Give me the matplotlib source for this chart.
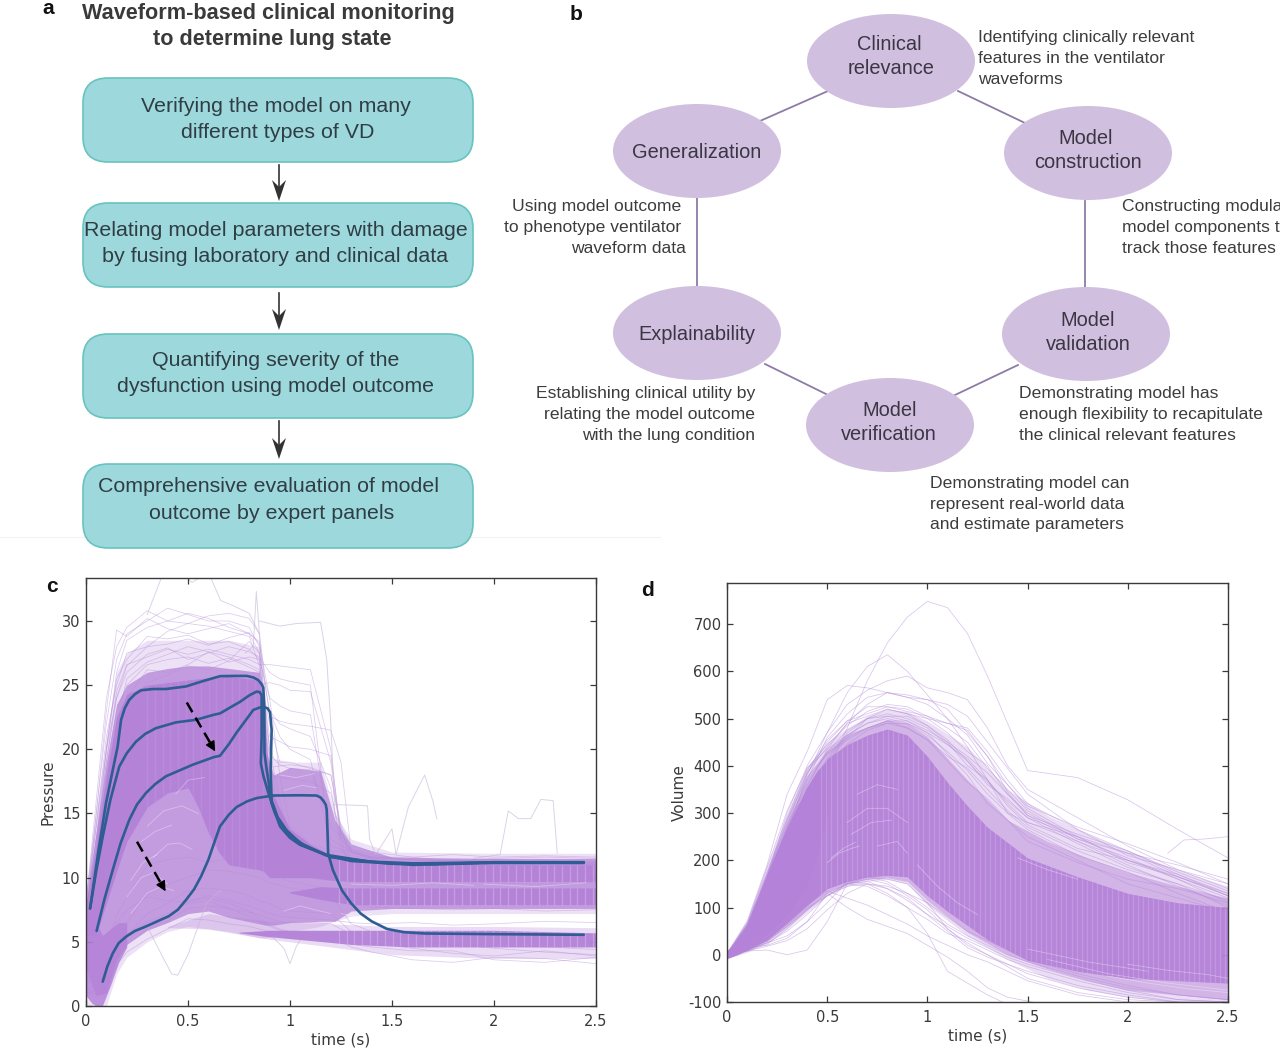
import numpy as np
import matplotlib
matplotlib.use("Agg")
import matplotlib.pyplot as plt
from matplotlib.patches import Ellipse, FancyBboxPatch, Polygon

plt.rcParams["axes.unicode_minus"] = False

# ---------- panel a / b content ----------
TITLE_A = ["Waveform-based clinical monitoring", "to determine lung state"]
FLOW_LINES = [["Verifying the model on many", "different types of VD"],
              ["Relating model parameters with damage", "by fusing laboratory and clinical data"],
              ["Quantifying severity of the", "dysfunction using model outcome"],
              ["Comprehensive evaluation of model", "outcome by expert panels"]]
CYCLE_NAMES = [["Clinical", "relevance"], ["Model", "construction"], ["Model", "validation"],
               ["Model", "verification"], ["Explainability"], ["Generalization"]]
NOTE_TEXT = ["Identifying clinically relevant", "features in the ventilator", "waveforms",
             "Constructing modular", "model components to", "track those features",
             "Demonstrating model has", "enough flexibility to recapitulate", "the clinical relevant features",
             "Demonstrating model can", "represent real-world data", "and estimate parameters",
             "Establishing clinical utility by", "relating the model outcome", "with the lung condition",
             "Using model outcome", "to phenotype ventilator", "waveform data"]

# ---------- panel c: pressure ----------
C_BAND_T = [0, .05, .1, .15, .2, .3, .4, .5, .6, .7, .85, .88, .92, 1.0, 1.15, 1.22, 1.3, 1.5, 2.0, 2.5]
C_LIGHT_HI = [9, 15, 21, 26, 27.5, 28.5, 28.5, 28.5, 28.5, 28.5, 28, 22, 19.3, 19, 19, 15, 13, 12, 11.9, 11.9]
C_LIGHT_LO = [0, 0, 0, 2.5, 3.8, 5, 5.8, 6.2, 6, 5.8, 5.3, 5.3, 5.5, 5.8, 6.2, 6.6, 7, 7.2, 7.2, 7.2]
C_MID_HI = [8, 13.5, 19, 23.5, 25, 26, 26.3, 26.5, 26.5, 26.3, 26, 20, 18, 18.6, 18.3, 14.5, 12.6, 11.6, 11.5, 11.5]
C_MID_LO = [3, .8, 1, 3.6, 4.8, 5.9, 6.5, 7.2, 7.4, 6.9, 6.4, 6.3, 6.3, 6.5, 6.6, 6.6, 7.4, 7.6, 7.6, 7.6]
C_DENSE_T = [0, .05, .1, .15, .2, .3, .4, .5, .55, .6, .65, .7, .85, .87, .9, 1.0, 1.1, 1.2, 1.3, 1.5, 2.0, 2.5]
C_DENSE_HI = [8, 12.5, 18, 22.5, 24.3, 25, 25.2, 25.4, 25.5, 25.6, 25.6, 25.7, 25.4, 24, 17, 13.8, 12.6, 11.8, 11.4, 11.1, 11, 11]
C_DENSE_LO = [5.5, 5.5, 8, 10.5, 12.8, 15.5, 16.6, 17, 15.5, 13.5, 12, 11, 10.6, 10.5, 10, 10, 10, 9.8, 9.7, 9.7, 9.7, 9.7]
C_LOW_T = [0, .03, .05, .08, .12, .16, .2]
C_LOW_HI = [8, 7.5, 6.5, 5.5, 6, 6.5, 6.5]
C_LOW_LO = [.8, .2, 0, 0, 1.6, 3.4, 4.6]
C_B8_T = [1.0, 1.15, 1.3, 1.5, 2.0, 2.5]
C_B8_HI = [8.9, 9.3, 9.2, 9.2, 9.2, 9.2]
C_B8_LO = [8.8, 8.3, 7.9, 7.9, 7.9, 7.9]
C_B5_T = [.75, .9, 1.1, 1.3, 1.6, 2.0, 2.5]
C_B5_HI = [5.75, 5.9, 5.9, 5.9, 5.9, 5.9, 5.7]
C_B5_LO = [5.7, 5.4, 5.1, 4.8, 4.6, 4.6, 4.6]
C_HALO_T = [.4, .6, .9, 1.2, 1.5, 2.0, 2.5]
C_HALO_HI = [6.2, 7.2, 6.6, 6.4, 6.2, 6.2, 6.1]
C_HALO_LO = [6.1, 6, 5.2, 4.6, 4.0, 3.7, 3.7]
C_STREAK_T = [[.2, .27, .33, .4], [.22, .3, .37, .43], [.3, .38, .47, .55], [.33, .4, .46, .52],
              [.27, .34, .42], [.22, .28, .35], [.44, .5, .58], [.95, 1.03, 1.12], [.97, 1.06, 1.13],
              [.97, 1.05, 1.12, 1.2], [1.3, 1.5, 1.7, 1.9], [1.95, 2.2, 2.45], [1.25, 1.32, 1.4]]
C_STREAK_Y = [[8.5, 10, 10.4, 9.5], [7.2, 8.8, 9.3, 9], [14, 15.2, 15.6, 15], [11.6, 12.6, 12.7, 12.2],
              [12.8, 13.6, 14.1], [9.8, 11.2, 11.8], [16.5, 17.6, 17.8], [18, 17.8, 18.1], [16.8, 17.2, 17],
              [7.4, 7.8, 7.5, 7.2], [9.5, 9.4, 9.6, 9.4], [9.5, 9.3, 9.6], [7.2, 7, 7.2]]

C_T = [0, .05, .1, .15, .2, .3, .4, .5, .6, .7, .8, .85, .9, .95, 1, 1.1, 1.2, 1.25, 1.3, 1.4, 1.6, 1.8, 2, 2.25, 2.5]
C_TRACES = [
 [8, 15, 22, 27, 29, 30, 31, 30.5, 30, 30, 29.5, 28, 20, 14, 12.5, 11.5, 11, 11, 11, 11, 10.8, 10.6, 10.6, 10.5, 10.5],
 [7, 13, 20, 26, 28.5, 29.5, 30, 30.6, 30.2, 29.5, 29, 27.5, 17, 14, 13, 12, 11.5, 11.2, 11, 10.8, 10.6, 10.5, 10.7, 10.6, 10.4],
 [8, 14, 21, 25, 27.5, 28, 29.2, 29.8, 30.4, 30.6, 30.2, 29, 18, 15, 13, 12.2, 11.8, 11.6, 11.4, 11.3, 11.1, 11.1, 11, 11, 11],
 [6, 12, 20, 24, 26.5, 28, 28.2, 28.6, 28.1, 28.7, 29.1, 28.2, 24, 18, 14, 12.6, 12.1, 12, 11.7, 11.5, 11.4, 11.3, 11.4, 11.2, 11.2],
 [7, 13, 19, 24, 26, 27.4, 27.9, 27, 27.5, 28, 27.6, 27.2, 26, 25.5, 25.3, 25, 12, 11.6, 11.4, 11.3, 11.2, 11.4, 11.2, 11.3, 11.1],
 [6, 12, 18, 23, 25, 26.6, 27, 27.2, 26.7, 27.1, 26.4, 26, 22, 19, 19, 18.5, 18, 13.5, 12.2, 11.8, 11.3, 11.2, 11.1, 11.1, 11],
 [5, 9, 15, 20, 22, 23.5, 24, 24.2, 24.5, 24.8, 24.9, 25, 25.2, 25, 24.6, 24.5, 19, 13, 12, 11.5, 11.2, 11.2, 11, 11.1, 11],
 [5, 9, 14, 18, 20, 22, 22.7, 23, 23.2, 23.5, 23.4, 23.6, 23, 22, 21.6, 21, 17, 12.2, 11.4, 10.8, 10.5, 10.4, 10.3, 10.4, 10.3],
 [4, 8, 12, 15, 17, 19.2, 19.8, 19.5, 19.8, 20.2, 20.4, 20, 18.6, 18.7, 18.8, 18.6, 18, 14, 11, 10, 9.8, 9.7, 9.6, 9.5, 9.6],
 [4, 6, 9, 12, 14, 16.4, 17.5, 18, 18.3, 18.6, 18.4, 18.2, 18, 17.8, 17.7, 17.5, 16.6, 13, 10, 9.2, 8.8, 8.6, 8.5, 8.4, 8.5],
 [2, 3, 5, 7, 8.5, 11, 11.4, 11.6, 11.2, 11.5, 11.2, 11, 10.5, 10, 9.7, 9.4, 9, 8.4, 8, 7.7, 7.6, 7.5, 7.6, 7.4, 7.5],
 [1, 2, 3.5, 5, 6.5, 8.7, 9.5, 10, 10.6, 10.5, 10.2, 10, 9.6, 9.4, 9.2, 9, 8.6, 7.5, 6.4, 5.8, 5.5, 5.4, 5.3, 5.2, 5.1],
 [1, 1, 2.5, 4, 5.5, 7.2, 8, 9, 9.2, 9, 8.6, 8.2, 8, 7.6, 7.4, 7.3, 7.2, 6.5, 5.8, 5.2, 5, 4.9, 4.7, 4.6, 4.4],
 [2, 1.5, 2, 3.5, 4.8, 6, 6.6, 7.6, 7.8, 7.6, 7.3, 7.1, 6.8, 6.6, 6.5, 6.5, 6.4, 6, 5.6, 5.3, 5, 4.8, 4.5, 4.2, 4],
 [3, 1, 1.6, 3.2, 4.2, 5.2, 6, 6.8, 6.7, 6.4, 6.2, 6, 5.8, 5.7, 5.6, 5.6, 5.6, 5.4, 5.1, 4.9, 4.5, 4.1, 3.9, 4.3, 3.9],
 [6, 9, 15, 21, 24, 26.2, 26, 26.6, 27.6, 26.8, 27.2, 27, 20, 16, 13.2, 12, 11.5, 11.3, 11.2, 11.1, 11, 11, 10.9, 11, 10.8],
 [8, 13, 17, 22, 25.5, 26.8, 27.4, 28, 27.6, 27.2, 26.6, 26.2, 17, 13, 12, 11.6, 11.4, 11.3, 11.2, 11, 10.9, 10.9, 11, 10.8, 10.9],
 [7, 11, 16, 19.5, 23, 25.2, 25.8, 26.5, 26.2, 26.9, 28.4, 27.5, 23, 21, 20, 19.2, 12.5, 12.2, 12, 11.6, 11.6, 11.8, 11.6, 11.7, 11.6],
 [5, 10, 13, 16, 18.6, 21, 21.4, 21.6, 22, 22.6, 23, 23.2, 19.6, 18.8, 18.5, 18.4, 14, 13.2, 12.6, 12, 11.6, 11.3, 11.5, 11.6, 11.5],
 [1, 1.2, 2.2, 3.8, 5, 6.5, 7, 8.2, 8.4, 8, 7.4, 6.8, 6.3, 6, 5.8, 5.6, 5.5, 5.2, 4.8, 4.6, 4.3, 4.3, 3.6, 3.4, 3.8],
 [8, 16, 24, 28, 29.5, 30.8, 30, 29.8, 29.6, 29.2, 28.8, 26.5, 21, 20.6, 20.2, 20, 19.5, 13.5, 12, 11.4, 11.2, 11.2, 11.3, 11.1, 11.2],
 [7, 15, 23, 29.3, 28.8, 30.2, 29.4, 29, 29.4, 29.8, 29, 28.4, 22.6, 22.2, 22, 21.8, 21.5, 19, 12, 11.6, 11.4, 11.2, 11.2, 11.3, 11.1],
 [7, 14, 20, 25.5, 27, 28.8, 28.6, 28.9, 28.2, 28.4, 27.8, 27, 24, 23.4, 23, 22.7, 13, 12.5, 12, 11.6, 11.5, 11.3, 11.3, 11.2, 11.2],
 [6, 12, 19, 24.5, 26.6, 27.2, 27.8, 27.4, 27.8, 27.4, 27, 26.6, 26.6, 26.5, 26.4, 26.2, 20, 13, 12.2, 11.6, 11.4, 11.3, 11.4, 11.4, 11.3],
 [3, 4, 5, 6.5, 7.5, 8.5, 8.2, 8.1, 8.6, 8.2, 7.8, 7.5, 7.2, 7, 6.9, 6.8, 6.7, 6.6, 6.5, 6.4, 6.5, 6.3, 6.4, 6.6, 6.5],
 [2, 2, 3, 4.5, 5.6, 6.6, 7.2, 8, 8.2, 7.6, 7, 6.6, 6.2, 5.9, 5.7, 5.4, 5.2, 5, 4.6, 4.2, 3.6, 3.4, 3.8, 3.7, 3.3],
]
C_OUT_T1 = [.3, .38, .45, .52, .6, .66, .72, .8, .85]
C_OUT_Y1 = [30.5, 33.8, 34, 33, 33.8, 31.6, 31.2, 30.6, 29]
C_OUT_T2 = [.78, .82, .835, .85, .87, .89]
C_OUT_Y2 = [27.5, 28, 32.3, 29, 26.5, 20]
C_OUT_T3 = [.85, .95, 1.03, 1.15, 1.18, 1.2, 1.22, 1.3]
C_OUT_Y3 = [30, 29.6, 29.8, 29.9, 27, 22, 15, 12.5]
C_OUT_T4 = [1.22, 1.38, 1.39, 1.42, 1.5, 1.52, 1.58, 1.66, 1.7, 1.72]
C_OUT_Y4 = [15.7, 15.6, 13, 11.8, 13.8, 11.8, 15.5, 18, 16, 14.6]
C_OUT_T5 = [1.9, 2.03, 2.07, 2.12, 2.18, 2.23, 2.29, 2.31]
C_OUT_Y5 = [11.5, 11.8, 15.2, 14.6, 14.6, 16.1, 16, 11.9]
C_OUT_T6 = [.3, .37, .42, .45, .5, .59, .66]
C_OUT_Y6 = [6.2, 4, 2.5, 2.4, 4, 8, 9]
C_OUT_T7 = [.85, .92, .97, 1.0, 1.03, 1.06]
C_OUT_Y7 = [5.5, 5.3, 4.5, 3.3, 4.6, 5.4]

C_BOLD1_T = [.02, .06, .098, .13, .155, .172, .19, .212, .24, .27, .33, .392, .49, .57, .657, .73, .788, .82, .844, .86, .869, .874, .875, .884, .894, .91, .951, 1.0, 1.05, 1.18, 1.39, 1.7, 2.0, 2.44]
C_BOLD1_Y = [7.6, 12, 15.8, 18.3, 20.2, 22.3, 23.2, 23.85, 24.3, 24.6, 24.7, 24.7, 24.9, 25.3, 25.7, 25.72, 25.72, 25.6, 25.4, 25.1, 24.8, 23.3, 19.7, 18.6, 17.6, 15.8, 14, 13.1, 12.55, 11.77, 11.25, 11.05, 11.2, 11.2]
C_BOLD2_T = [.02, .05, .082, .12, .163, .2, .245, .29, .343, .441, .539, .628, .657, .7, .755, .8, .836, .852, .861, .861, .857, .87, .894, .927, .983, 1.08, 1.18, 1.3, 1.6, 2.0, 2.44]
C_BOLD2_Y = [7.6, 10.5, 13.2, 16.1, 18.65, 19.7, 20.6, 21.2, 21.65, 22.1, 22.3, 22.7, 22.8, 23.2, 23.7, 24.2, 24.5, 24.45, 24.2, 21, 18.9, 17.9, 16.6, 15, 13.5, 12.4, 11.72, 11.3, 11, 11.15, 11.15]
C_BOLD3_T = [.052, .09, .131, .17, .212, .25, .294, .34, .392, .45, .523, .628, .657, .7, .738, .78, .82, .85, .869, .89, .902, .91, .905, .91, .94, .983, 1.05, 1.2, 1.5, 2.0, 2.44]
C_BOLD3_Y = [5.85, 8.3, 10.6, 12.7, 14.5, 15.7, 16.6, 17.3, 17.9, 18.3, 18.8, 19.4, 19.5, 20.4, 21.3, 22.2, 23.07, 23.25, 23.3, 23.2, 22.9, 21.5, 18.4, 16, 14.7, 13.7, 12.7, 11.6, 11.08, 11.2, 11.2]
C_BOLD4_T = [.082, .105, .131, .16, .196, .24, .294, .35, .406, .45, .49, .53, .564, .6, .628, .657, .7, .738, .79, .836, .918, 1.05, 1.13, 1.15, 1.163, 1.175, 1.18, 1.184, 1.187, 1.21, 1.255, 1.3, 1.347, 1.4, 1.476, 1.56, 1.66, 2.0, 2.44]
C_BOLD4_Y = [1.9, 3.1, 4.1, 4.9, 5.4, 5.85, 6.2, 6.6, 7, 7.5, 8.26, 9.1, 10.1, 11.4, 12.7, 14, 14.9, 15.5, 15.95, 16.2, 16.4, 16.42, 16.4, 16.25, 16, 15.7, 15.3, 13.5, 11.9, 10.6, 9, 8, 7.2, 6.6, 6, 5.75, 5.65, 5.6, 5.55]
C_ARROW_T = [[.494, .64], [.25, .397]]
C_ARROW_Y = [[23.65, 19.65], [12.8, 8.75]]

# ---------- panel d: volume ----------
D_BAND_T = [0, .05, .1, .2, .3, .4, .5, .6, .7, .8, .9, 1, 1.1, 1.2, 1.3, 1.5, 1.75, 2, 2.25, 2.5]
D_DENSE_HI = [8, 30, 62, 170, 270, 355, 415, 445, 465, 478, 465, 420, 365, 315, 270, 205, 165, 130, 110, 100]
D_DENSE_LO = [-8, 0, 10, 32, 68, 105, 140, 155, 165, 168, 165, 125, 92, 62, 32, -12, -35, -50, -55, -60]
D_SOLID_T = [0, .05, .1, .2, .3, .4, .45, .5]
D_SOLID_HI = [8, 30, 62, 170, 270, 355, 390, 410]
D_SOLID_LO = [-5, 2, 12, 45, 85, 150, 210, 300]
D_MID_T = [0, .1, .2, .3, .4, .5, .6, .7, .8, .9, 1, 1.2, 1.4, 1.6, 1.8, 2, 2.25, 2.5]
D_MID_HI = [8, 68, 178, 282, 372, 432, 465, 482, 498, 490, 462, 370, 285, 240, 205, 175, 145, 120]
D_MID_LO = [-8, 8, 28, 60, 96, 132, 150, 160, 163, 155, 115, 48, 0, -30, -55, -75, -85, -95]
D_LIGHT_T = [0, .1, .2, .3, .4, .5, .6, .7, .8, .9, 1, 1.2, 1.4, 1.6, 1.8, 2, 2.25, 2.5]
D_LIGHT_HI = [8, 75, 190, 300, 395, 450, 480, 505, 520, 515, 495, 440, 350, 295, 255, 220, 180, 145]
D_LIGHT_LO = [-8, 5, 25, 55, 90, 125, 145, 155, 160, 150, 105, 40, -10, -50, -75, -90, -100, -100]
D_STREAK_T = [[.5, .56, .62, .66], [.52, .58, .64], [.6, .7, .8, .9], [.62, .72, .82], [.65, .75, .85], [1.9, 2.1, 2.3, 2.5], [2, 2.2, 2.4, 2.5],
              [1.6, 1.9, 2.2, 2.5], [1.5, 1.8, 2.1], [.95, 1.05, 1.15, 1.25], [1.45, 1.6, 1.75], [.75, .85, .9]]
D_STREAK_Y = [[195, 215, 225, 230], [205, 225, 238], [280, 310, 310, 280], [255, 280, 285], [340, 360, 350], [-45, -60, -72, -80], [-20, -33, -42, -50],
              [-10, -40, -60, -75], [12, -15, -35], [190, 145, 110, 85], [205, 180, 160], [230, 240, 215]]

D_T = [0, .1, .2, .3, .4, .5, .6, .7, .8, .9, 1, 1.1, 1.2, 1.3, 1.4, 1.5, 1.75, 2, 2.25, 2.5]
D_TRACES = [
 [0, 50, 130, 215, 300, 390, 480, 580, 660, 715, 748, 735, 680, 590, 490, 390, 375, 328, 265, 205],
 [0, 45, 140, 260, 380, 470, 555, 610, 635, 600, 550, 500, 440, 370, 300, 280, 250, 215, 165, 125],
 [0, 70, 190, 340, 430, 540, 570, 565, 555, 545, 540, 530, 505, 450, 395, 340, 265, 220, 170, 125],
 [0, 60, 165, 300, 400, 470, 530, 560, 580, 590, 565, 555, 540, 480, 400, 350, 290, 230, 180, 140],
 [0, 55, 150, 260, 370, 460, 510, 545, 555, 550, 540, 520, 470, 420, 360, 310, 250, 200, 160, 110],
 [0, 60, 160, 275, 385, 450, 495, 525, 525, 515, 505, 490, 480, 430, 370, 320, 265, 210, 180, 150],
 [0, 62, 165, 280, 385, 440, 490, 505, 520, 510, 500, 470, 430, 400, 340, 295, 240, 200, 165, 125],
 [0, 58, 155, 265, 360, 430, 475, 500, 510, 500, 480, 445, 415, 370, 320, 280, 240, 190, 145, 105],
 [0, 50, 140, 245, 340, 410, 465, 490, 500, 490, 465, 430, 390, 340, 300, 265, 210, 175, 130, 90],
 [0, 60, 170, 285, 375, 430, 465, 480, 490, 490, 470, 445, 410, 360, 330, 290, 235, 185, 150, 100],
 [0, 45, 125, 225, 320, 395, 445, 475, 490, 480, 455, 410, 365, 330, 285, 250, 200, 150, 120, 90],
 [0, 55, 150, 250, 350, 415, 470, 500, 505, 495, 470, 425, 380, 320, 285, 240, 195, 160, 140, 110],
 [0, 8, 10, 0, 10, 70, 150, 165, 160, 150, 110, 55, 20, 0, -25, -50, -80, -95, -100, -100],
 [0, 15, 20, 35, 70, 110, 155, 150, 130, 100, 45, -35, -60, -85, -105, -120, -140, -150, -160, -170],
 [0, 10, 25, 40, 70, 130, 100, 75, 60, 45, 20, -5, -35, -70, -90, -98, -120, -140, -150, -160],
 [0, 12, 30, 65, 105, 135, 120, 105, 85, 65, 40, 20, 0, -15, -35, -55, -85, -100, -110, -120],
 [0, 15, 35, 65, 100, 125, 150, 145, 125, 100, 75, 45, 30, 10, -10, -25, -55, -80, -95, -100],
 [0, 10, 30, 70, 115, 140, 155, 165, 155, 130, 110, 80, 50, 30, 10, -10, -40, -65, -85, -95],
 [0, 8, 22, 55, 95, 130, 150, 155, 140, 115, 85, 60, 35, 15, -5, -20, -50, -75, -95, -100],
 [0, 60, 165, 285, 390, 455, 495, 510, 525, 520, 500, 490, 475, 420, 345, 295, 255, 220, 175, 135],
 [0, 65, 175, 290, 395, 445, 485, 515, 530, 525, 505, 480, 450, 395, 350, 305, 245, 215, 190, 160],
 [0, 55, 145, 250, 355, 435, 490, 530, 555, 545, 530, 500, 465, 405, 360, 315, 270, 235, 195, 150],
 [0, 55, 155, 270, 370, 425, 460, 500, 520, 510, 485, 450, 400, 370, 315, 275, 225, 200, 170, 130],
 [0, 60, 160, 270, 375, 425, 455, 480, 495, 495, 475, 450, 420, 385, 340, 300, 245, 205, 160, 120],
 [0, 45, 125, 225, 330, 405, 460, 480, 495, 480, 455, 420, 395, 350, 305, 270, 220, 180, 150, 115],
 [0, 65, 185, 305, 395, 435, 465, 490, 505, 505, 485, 455, 410, 365, 325, 290, 250, 195, 165, 130],
 [0, 12, 25, 50, 85, 125, 145, 150, 140, 120, 85, 50, 15, -5, -20, -40, -70, -90, -100, -110],
 [0, 10, 30, 60, 95, 125, 150, 160, 150, 125, 95, 55, 25, 0, -20, -35, -65, -85, -100, -115],
 [0, 8, 18, 30, 55, 95, 130, 150, 145, 130, 100, 65, 40, 20, 0, -15, -45, -70, -85, -95],
]
D_OUT_T = [2.2, 2.28, 2.38, 2.5]
D_OUT_Y = [215, 243, 245, 250]

FIG_W, FIG_H = 1280, 1053
PURPLE = "#b482d8"
TRACE = "#b48bd9"
BLUE = "#2f5c92"
TEAL = "#9dd8dc"
TEAL_EDGE = "#68c3bf"
LILAC = "#d1bfdf"
LINK = "#8d7ba6"
SANS = ["Liberation Sans", "DejaVu Sans"]

fig = plt.figure(figsize=(FIG_W / 100, FIG_H / 100), dpi=100, facecolor="white")


def make_axes(left, right, top, bottom):
    ax = fig.add_axes([left / FIG_W, 1 - bottom / FIG_H, (right - left) / FIG_W, (bottom - top) / FIG_H])
    ax.tick_params(direction="in", top=True, right=True, length=4.5, width=.9, labelsize=10.5,
                   colors="#3a3a3a", pad=4)
    ax.tick_params(axis="x", pad=6)
    for s in ax.spines.values():
        s.set_color("#3a3a3a")
        s.set_linewidth(1.0)
    ax.set_xlim(0, 2.5)
    ax.set_xticks([0, .5, 1, 1.5, 2, 2.5])
    ax.set_xticklabels(["0", "0.5", "1", "1.5", "2", "2.5"])
    ax.set_xlabel("time (s)", fontsize=11, color="#3a3a3a", labelpad=2)
    return ax


def stripes(ax, t, lo, hi, start, stop, step, a=.13):
    xs = np.arange(start, stop, step)
    ax.vlines(xs, np.interp(xs, t, lo), np.interp(xs, t, hi), color="white", lw=.9, alpha=a, zorder=2.5)


# ---------- panel c ----------
axc = make_axes(86, 596, 578, 1006)
axc.set_ylim(0, 33.35)
axc.set_yticks(range(0, 31, 5))
axc.set_ylabel("Pressure", fontsize=11, color="#3a3a3a", labelpad=4.5)
axc.fill_between(C_BAND_T, C_LIGHT_LO, C_LIGHT_HI, color=PURPLE, alpha=.24, lw=0, zorder=1)
axc.fill_between(C_BAND_T, C_MID_LO, C_MID_HI, color=PURPLE, alpha=.72, lw=0, zorder=1.2)
axc.fill_between(C_HALO_T, C_HALO_LO, C_HALO_HI, color=PURPLE, alpha=.28, lw=0, zorder=1.2)
for tr in C_TRACES:
    axc.plot(C_T, tr, color=TRACE, lw=.55, alpha=.45, zorder=1.5)
for tt, yy in [(C_OUT_T1, C_OUT_Y1), (C_OUT_T2, C_OUT_Y2), (C_OUT_T3, C_OUT_Y3), (C_OUT_T4, C_OUT_Y4),
               (C_OUT_T5, C_OUT_Y5), (C_OUT_T6, C_OUT_Y6), (C_OUT_T7, C_OUT_Y7)]:
    axc.plot(tt, yy, color="#c3b6d8", lw=.7, alpha=.6, zorder=1.5)
axc.fill_between(C_DENSE_T, C_DENSE_LO, C_DENSE_HI, color=PURPLE, alpha=.95, lw=0, zorder=2)
axc.fill_between(C_LOW_T, C_LOW_LO, C_LOW_HI, color=PURPLE, alpha=.85, lw=0, zorder=2)
axc.fill_between(C_B8_T, C_B8_LO, C_B8_HI, color=PURPLE, alpha=.95, lw=0, zorder=2)
axc.fill_between(C_B5_T, C_B5_LO, C_B5_HI, color=PURPLE, alpha=.95, lw=0, zorder=2)
stripes(axc, C_DENSE_T, C_DENSE_LO, C_DENSE_HI, 1.24, 2.5, .0377, .22)
stripes(axc, C_B8_T, C_B8_LO, C_B8_HI, 1.24, 2.5, .0377, .22)
stripes(axc, C_B5_T, C_B5_LO, C_B5_HI, 1.24, 2.5, .0377, .22)
stripes(axc, C_DENSE_T, C_DENSE_LO, C_DENSE_HI, .3, .87, .0377, .08)
for tt, yy in zip(C_STREAK_T, C_STREAK_Y):
    axc.plot(tt, yy, color="white", lw=.6, alpha=.35, zorder=2.6)
for tt, yy in [(C_BOLD1_T, C_BOLD1_Y), (C_BOLD2_T, C_BOLD2_Y), (C_BOLD3_T, C_BOLD3_Y), (C_BOLD4_T, C_BOLD4_Y)]:
    axc.plot(tt, yy, color=BLUE, lw=1.9, zorder=4, solid_joinstyle="round", solid_capstyle="round")
for tt, yy in zip(C_ARROW_T, C_ARROW_Y):
    axc.plot([tt[0], tt[0] + .88 * (tt[1] - tt[0])], [yy[0], yy[0] + .88 * (yy[1] - yy[0])],
             color="black", lw=1.8, ls=(0, (4.5, 2.5)), zorder=5)
    axc.annotate("", xy=(tt[1], yy[1]), xytext=(tt[0] + .85 * (tt[1] - tt[0]), yy[0] + .85 * (yy[1] - yy[0])),
                 arrowprops=dict(arrowstyle="-|>,head_length=.6,head_width=.3", color="black", lw=1), zorder=5)

# ---------- panel d ----------
axd = make_axes(727, 1228, 583, 1002)
axd.set_ylim(-100, 787)
axd.set_yticks(range(-100, 701, 100))
axd.set_ylabel("Volume", fontsize=11, color="#3a3a3a", labelpad=1)
axd.fill_between(D_LIGHT_T, D_LIGHT_LO, D_LIGHT_HI, color=PURPLE, alpha=.26, lw=0, zorder=1)
axd.fill_between(D_MID_T, D_MID_LO, D_MID_HI, color=PURPLE, alpha=.45, lw=0, zorder=1.1)
for tr in D_TRACES:
    axd.plot(D_T, tr, color=TRACE, lw=.55, alpha=.5, zorder=1.5)
axd.plot(D_OUT_T, D_OUT_Y, color=TRACE, lw=.55, alpha=.5, zorder=1.5)
axd.fill_between(D_BAND_T, D_DENSE_LO, D_DENSE_HI, color=PURPLE, alpha=.93, lw=0, zorder=2)
axd.fill_between(D_SOLID_T, D_SOLID_LO, D_SOLID_HI, color=PURPLE, lw=0, zorder=2.1)
stripes(axd, D_BAND_T, D_DENSE_LO, D_DENSE_HI, .47, 2.5, .0255, .16)
for tt, yy in zip(D_STREAK_T, D_STREAK_Y):
    axd.plot(tt, yy, color="white", lw=.6, alpha=.35, zorder=2.6)

# ---------- diagram overlay in reference pixel coordinates ----------
ov = fig.add_axes([0, 0, 1, 1], zorder=10)
ov.set_xlim(0, FIG_W)
ov.set_ylim(FIG_H, 0)
ov.axis("off")
ov.patch.set_alpha(0)

ov.plot([0, 660], [537, 537], color="#f3f3f3", lw=.8, zorder=0)

for label, x, y in [("a", 48, 8), ("b", 576, 15), ("c", 52, 587), ("d", 648, 591)]:
    ov.text(x, y, label, fontsize=15, fontweight="bold", family=SANS, color="#111111", ha="center", va="center")

for line, x, y in zip(TITLE_A, [268.5, 272], [14, 40]):
    ov.text(x, y, line, fontsize=15.55, fontweight="bold", family=SANS, color="#3a3a3a", ha="center", va="center")

box_tops = [78, 203, 334, 464]
line_x = [[276, 278], [276, 275.5], [275.5, 275.5], [268.5, 271.5]]
line_y = [[106.5, 132.5], [230.5, 256.5], [360.5, 386.5], [487, 513.5]]
for top, lines, xs, ys in zip(box_tops, FLOW_LINES, line_x, line_y):
    ov.add_patch(FancyBboxPatch((83 + 25, top + 25), 390 - 50, 84 - 50,
                                boxstyle="round,pad=25,rounding_size=25", fc=TEAL, ec=TEAL_EDGE, lw=1.2))
    for line, x, y in zip(lines, xs, ys):
        ov.text(x, y, line, fontsize=15.4, family=SANS, color="#2f3d44", ha="center", va="center")

for y0, y1 in [(165, 201), (293, 330), (421, 459)]:
    ov.plot([279, 279], [y0, y1 - 10], color="#333333", lw=1.2)
    ov.add_patch(Polygon([(279, y1), (272, y1 - 21), (279, y1 - 14), (286, y1 - 21)], fc="#333333", ec="none"))

centers = [(891, 61), (1088, 153), (1086, 334), (890, 425), (697, 333), (697, 151)]
name_pos = [[(889, 45), (891, 69)], [(1086, 139), (1088, 163)], [(1088, 321), (1088, 344)],
            [(890, 411), (889, 435)], [(697, 335)], [(697, 152)]]
for (a, b) in [((760, 121), (828, 91)), ((958, 91), (1025, 123)), ((1085, 201), (1085, 287)),
               ((1018, 365), (955, 395)), ((826, 394), (765, 364)), ((697, 287), (697, 198))]:
    ov.plot([a[0], b[0]], [a[1], b[1]], color=LINK, lw=1.3, zorder=1)
for (cx, cy), names, pos in zip(centers, CYCLE_NAMES, name_pos):
    ov.add_patch(Ellipse((cx, cy), 168, 94, fc=LILAC, ec="none", zorder=2))
    for name, (x, y) in zip(names, pos):
        ov.text(x, y, name, fontsize=14.4, family=SANS, color="#3a3644", ha="center", va="center", zorder=3)

note_anchor = [(978, 37.5, "left"), (978, 58.5, "left"), (978, 79, "left"),
               (1122, 206.5, "left"), (1122, 227.5, "left"), (1122, 248.5, "left"),
               (1019, 393.5, "left"), (1019, 414.5, "left"), (1019, 435.5, "left"),
               (930, 483.5, "left"), (930, 504, "left"), (930, 525, "left"),
               (755, 393.5, "right"), (755, 414.5, "right"), (755, 435.5, "right"),
               (681, 206.5, "right"), (681, 227.5, "right"), (686, 248.5, "right")]
for txt, (x, y, ha) in zip(NOTE_TEXT, note_anchor):
    ov.text(x, y, txt, fontsize=12.6, family=SANS, color="#3c3c3c", ha=ha, va="center", clip_on=True)

fig.savefig("out.png", dpi=100)
